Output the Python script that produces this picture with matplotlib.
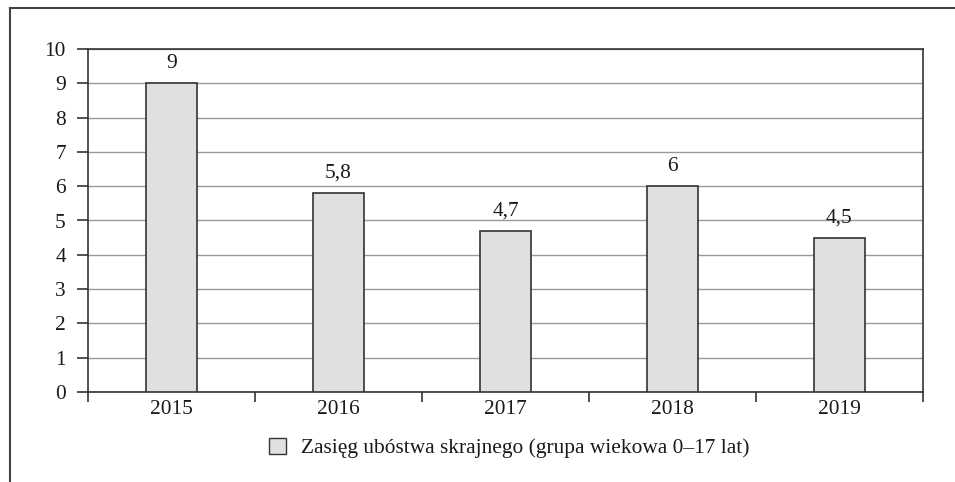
import matplotlib.pyplot as plt
from matplotlib.lines import Line2D
from matplotlib.patches import Patch
import numpy as np

# dane
years = ['2015', '2016', '2017', '2018', '2019']
values = [9, 5.8, 4.7, 6, 4.5]
labels = ['9', '5,8', '4,7', '6', '4,5']
legend_label = 'Zasięg ubóstwa skrajnego (grupa wiekowa 0–17 lat)'

plt.rcParams['font.family'] = ['Liberation Serif', 'DejaVu Serif']
plt.rcParams['font.size'] = 15.4

fig = plt.figure(figsize=(9.55, 4.82), dpi=100)
ax = fig.add_axes([88 / 955, 1 - 392 / 482, (923 - 88) / 955, (392 - 49) / 482])

x = np.arange(len(years))
bar_fill = '#e0e0e2'
edge = '#333333'
ax.bar(x, values, width=0.31, color=bar_fill, edgecolor=edge, linewidth=1.2, zorder=3)

for xi, v, t in zip(x, values, labels):
    ax.text(xi, v + 0.3, t, ha='center', va='bottom', color='#1a1a1a')

ax.set_xlim(-0.5, 4.5)
ax.set_ylim(0, 10)
ax.set_yticks(range(0, 11))
ax.grid(axis='y', color='#999999', linewidth=1, zorder=0)

ax.set_xticks(x)
ax.set_xticklabels(years)
ax.set_xticks(np.arange(-0.5, 5, 1), minor=True)
ax.tick_params(axis='x', which='major', length=0, pad=6, colors='#1a1a1a')
ax.tick_params(axis='x', which='minor', length=7, width=1.2, color=edge)
ax.tick_params(axis='y', length=8, width=1.2, color=edge, pad=8, labelcolor='#1a1a1a')

for s in ax.spines.values():
    s.set_color(edge)
    s.set_linewidth(1.2)

handle = Patch(facecolor=bar_fill, edgecolor=edge, linewidth=1)
fig.legend([handle], [legend_label], loc='center', bbox_to_anchor=(0.533, 1 - 448 / 482),
           frameon=False, handlelength=0.8, handleheight=0.8, handletextpad=0.7,
           labelcolor='#1a1a1a')

# ramka zewnetrzna (tylko lewa i gorna krawedz widoczna)
fig.add_artist(Line2D([10 / 955, 1], [1 - 8 / 482, 1 - 8 / 482], color='#444444', linewidth=1.5))
fig.add_artist(Line2D([10 / 955, 10 / 955], [0, 1 - 8 / 482], color='#444444', linewidth=1.5))

fig.savefig('out.png', dpi=100)
